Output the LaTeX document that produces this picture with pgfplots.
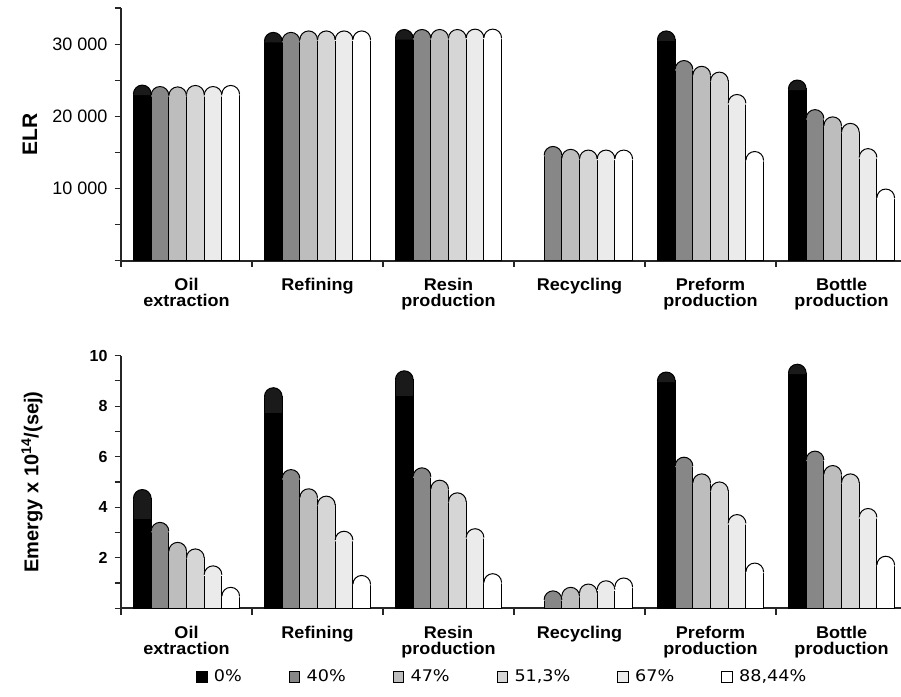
\documentclass[border=0pt]{standalone}
\usepackage{pgfplots}
\pgfplotsset{compat=1.18}
\usepackage{pgfplotstable}
\usepackage{fontspec}
\setmainfont{Liberation Sans}
\newfontfamily\catfont[FakeStretch=1.06]{Liberation Sans}
\newfontfamily\legfont[FakeStretch=1.1]{DejaVu Sans}
\definecolor{c0}{HTML}{000000}
\definecolor{c0cap}{HTML}{1A1A1A}
\definecolor{c40}{HTML}{878787}
\definecolor{c47}{HTML}{BDBDBD}
\definecolor{c51}{HTML}{D6D6D6}
\definecolor{c67}{HTML}{EBEBEB}
\definecolor{c88}{HTML}{FFFFFF}
\pgfdeclareplotmark{cap}{%
  \pgfpathmoveto{\pgfqpoint{\pgfplotmarksize}{-0.6pt}}%
  \pgfpathlineto{\pgfqpoint{\pgfplotmarksize}{0pt}}%
  \pgfpatharc{0}{180}{\pgfplotmarksize}%
  \pgfpathlineto{\pgfqpoint{-\pgfplotmarksize}{-0.6pt}}%
  \pgfpathclose
  \pgfusepathqfill
  \pgfpathmoveto{\pgfqpoint{\pgfplotmarksize}{0pt}}%
  \pgfpatharc{0}{180}{\pgfplotmarksize}%
  \pgfusepathqstroke
}
\pgfplotstableread{
x p0 p40 p47 p51 p67 p88
0 23100 22900 22850 23050 22900 23050
1 30400 30400 30600 30600 30600 30600
2 30800 30800 30800 30800 30850 30850
3 nan 14600 14200 14100 14100 14100
4 30600 26500 25700 24900 21800 13900
5 23800 19700 18700 17800 14300 8700
}\topdata
\pgfplotstableread{
x p0 p0low p40 p47 p51 p67 p88
0 4.35 3.53 3.05 2.26 2.00 1.33 0.48
1 8.38 7.70 5.14 4.38 4.09 2.70 0.95
2 9.05 8.40 5.21 4.72 4.22 2.80 1.02
3 nan nan 0.34 0.48 0.61 0.74 0.85
4 9.00 9.00 5.63 4.97 4.65 3.36 1.44
5 9.31 9.31 5.87 5.30 4.97 3.60 1.71
}\botdata
\pgfplotsset{
  mybar/.style 2 args={ybar, bar width=0.135, bar shift=#1, fill=#2, draw=black, line width=0.5pt,
    legend image code/.code={\draw[##1,line width=0.5pt] (0pt,-2.6pt) rectangle (5.2pt,2.6pt); \path (6.4pt,0pt);}},
  mycap/.style={only marks, mark=cap, mark size=4.42pt, mark options={fill=#1, draw=black, line width=0.5pt}, forget plot},
  common/.style={
    scale only axis, width=390pt, height=126.35pt,
    xmin=-0.5, xmax=5.454, ymin=0,
    scaled y ticks=false,
    axis x line*=bottom, axis y line*=left,
    axis line style={draw=black!85, line width=0.6pt},
    x axis line style={line width=0.9pt},
    tick align=outside, major tick length=3.2pt, minor tick length=3.2pt,
    every tick/.style={draw=black!85, line width=0.6pt},
    xtick={0,...,5}, minor xtick={-0.5,0.5,1.5,2.5,3.5,4.5},
    major x tick style={draw=none},
    xticklabels={Oil\\extraction, Refining, Resin\\production, Recycling, Preform\\production, Bottle\\production},
    xticklabel style={align=center, anchor=north, inner sep=0pt, font=\catfont\bfseries\fontsize{8.5}{8}\selectfont},
    xticklabel shift=5.5pt,
    clip=false,
  },
}
\begin{document}
\begin{tikzpicture}
\useasboundingbox (-60.5pt,-218.15pt) rectangle (390pt,130.35pt);
\begin{axis}[common, at={(0pt,0pt)}, anchor=south west,
  ymax=35000,
  ytick={10000,20000,30000}, yticklabels={10 000,20 000,30 000},
  minor ytick={0,5000,15000,25000,35000},
  yticklabel style={font=\fontsize{9}{10}\selectfont},
  ylabel={ELR},
  ylabel style={at={(axis description cs:-0.1167,0.5)}, anchor=center, font=\bfseries\fontsize{10.5}{12}\selectfont},
]
\addplot[mybar={-0.3375}{c0}] table[x=x,y=p0] {\topdata};
\addplot[mybar={-0.2025}{c40}] table[x=x,y=p40] {\topdata};
\addplot[mybar={-0.0675}{c47}] table[x=x,y=p47] {\topdata};
\addplot[mybar={0.0675}{c51}] table[x=x,y=p51] {\topdata};
\addplot[mybar={0.2025}{c67}] table[x=x,y=p67] {\topdata};
\addplot[mybar={0.3375}{c88}] table[x=x,y=p88] {\topdata};
\addplot[mycap=c0cap] table[x expr=\thisrow{x}-0.3375,y=p0] {\topdata};
\addplot[mycap=c40] table[x expr=\thisrow{x}-0.2025,y=p40] {\topdata};
\addplot[mycap=c47] table[x expr=\thisrow{x}-0.0675,y=p47] {\topdata};
\addplot[mycap=c51] table[x expr=\thisrow{x}+0.0675,y=p51] {\topdata};
\addplot[mycap=c67] table[x expr=\thisrow{x}+0.2025,y=p67] {\topdata};
\addplot[mycap=c88] table[x expr=\thisrow{x}+0.3375,y=p88] {\topdata};
\end{axis}
\begin{axis}[common, at={(0pt,-173.8pt)}, anchor=south west,
  ymax=10,
  ytick={2,4,6,8,10}, yticklabels={2,4,6,8,10},
  minor ytick={0,1,3,5,7,9},
  yticklabel style={font=\bfseries\fontsize{8}{9}\selectfont},
  ylabel={Emergy x 10\textsuperscript{14}/(sej)},
  ylabel style={at={(axis description cs:-0.114,0.5)}, anchor=center, font=\bfseries\fontsize{10}{12}\selectfont},
  legend columns=6,
  legend style={draw=none, fill=none, at={(0.49,-0.272)}, anchor=center,
    font=\legfont\fontsize{8}{9}\selectfont,
    /tikz/every even column/.append style={column sep=21.5pt}},
]
\addplot[mybar={-0.3375}{c0cap}, forget plot] table[x=x,y=p0] {\botdata};
\addplot[mybar={-0.3375}{c0}] table[x=x,y=p0low] {\botdata};
\addlegendentry{0\%}
\addplot[mybar={-0.2025}{c40}] table[x=x,y=p40] {\botdata};
\addlegendentry{40\%}
\addplot[mybar={-0.0675}{c47}] table[x=x,y=p47] {\botdata};
\addlegendentry{47\%}
\addplot[mybar={0.0675}{c51}] table[x=x,y=p51] {\botdata};
\addlegendentry{51,3\%}
\addplot[mybar={0.2025}{c67}] table[x=x,y=p67] {\botdata};
\addlegendentry{67\%}
\addplot[mybar={0.3375}{c88}] table[x=x,y=p88] {\botdata};
\addlegendentry{88,44\%}
\addplot[mycap=c0cap] table[x expr=\thisrow{x}-0.3375,y=p0] {\botdata};
\addplot[mycap=c40] table[x expr=\thisrow{x}-0.2025,y=p40] {\botdata};
\addplot[mycap=c47] table[x expr=\thisrow{x}-0.0675,y=p47] {\botdata};
\addplot[mycap=c51] table[x expr=\thisrow{x}+0.0675,y=p51] {\botdata};
\addplot[mycap=c67] table[x expr=\thisrow{x}+0.2025,y=p67] {\botdata};
\addplot[mycap=c88] table[x expr=\thisrow{x}+0.3375,y=p88] {\botdata};
\end{axis}
\end{tikzpicture}
\end{document}
